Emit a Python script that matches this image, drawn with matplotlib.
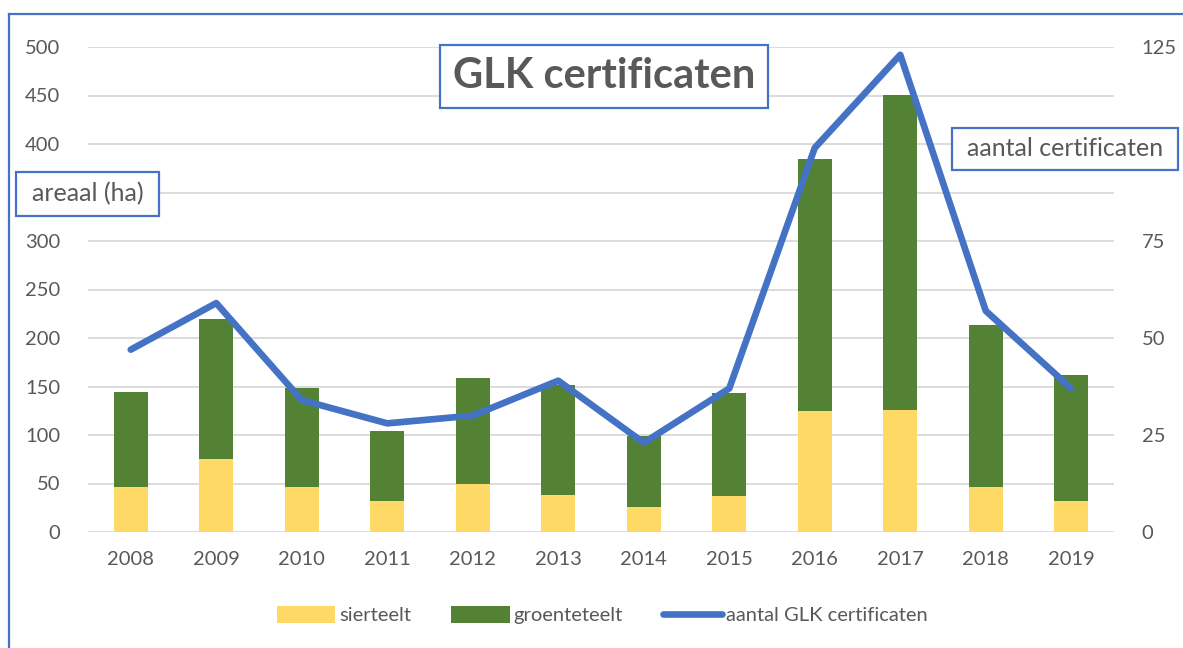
import matplotlib.pyplot as plt
import numpy as np
from matplotlib.patches import Rectangle

plt.rcParams['font.family'] = ['Lato', 'DejaVu Sans']

# data
jaren = ['2008', '2009', '2010', '2011', '2012', '2013', '2014', '2015', '2016', '2017', '2018', '2019']
sierteelt = [46, 75, 46, 32, 49, 38, 26, 37, 125, 126, 46, 32]
groenteteelt = [98, 145, 102, 72, 110, 114, 73, 106, 260, 325, 167, 130]
certificaten = [47, 59, 34, 28, 30, 39, 23, 37, 99, 123, 57, 37]

YELLOW = '#FFD966'
GREEN = '#548235'
BLUE = '#4472C4'
GREY = '#595959'

fig = plt.figure(figsize=(11.83, 6.48), dpi=100)
ax = fig.add_axes([88/1183, 1-532/648, 1026/1183, 485/648])
ax2 = ax.twinx()

x = np.arange(len(jaren))
ax.bar(x, sierteelt, width=0.4, color=YELLOW, label='sierteelt', zorder=2)
ax.bar(x, groenteteelt, width=0.4, bottom=sierteelt, color=GREEN, label='groenteteelt', zorder=2)
ax2.plot(x, certificaten, color=BLUE, lw=4.8, label='aantal GLK certificaten', solid_capstyle='round')

ax.set_xlim(-0.5, len(jaren) - 0.5)
ax.set_ylim(0, 500)
ax2.set_ylim(0, 125)
# labels 350 and 100 sit under the text boxes, as in the original
links = list(range(0, 501, 50))
ax.set_yticks(links)
ax.set_yticklabels(['' if v == 350 else str(v) for v in links])
rechts = list(range(0, 126, 25))
ax2.set_yticks(rechts)
ax2.set_yticklabels(['' if v == 100 else str(v) for v in rechts])
ax.set_xticks(x)
ax.set_xticklabels(jaren)

ax.grid(axis='y', color='#D9D9D9', lw=1.3, zorder=0)
ax.set_axisbelow(True)
for a in (ax, ax2):
    for s in a.spines.values():
        s.set_visible(False)
    a.tick_params(length=0, labelsize=14.5, colors=GREY)
ax.tick_params(axis='y', pad=20)
ax.tick_params(axis='x', pad=14)
ax2.tick_params(axis='y', pad=20)

# legend
h1, l1 = ax.get_legend_handles_labels()
h2, l2 = ax2.get_legend_handles_labels()
leg = fig.legend(h1 + h2, l1 + l2, loc='center', bbox_to_anchor=(602/1183, 1-615/648), ncol=3,
                 frameon=False, fontsize=14.5, handlelength=2.9, handleheight=0.9,
                 handletextpad=0.2, columnspacing=2.0)
for t in leg.get_texts():
    t.set_color(GREY)

# text boxes
def tekstvak(x0, y0, x1, y1, tekst, size, weight='normal'):
    fig.patches.append(Rectangle((x0/1183, 1-y1/648), (x1-x0)/1183, (y1-y0)/648,
                                 transform=fig.transFigure, fill=True, facecolor='white',
                                 edgecolor=BLUE, lw=1.6, zorder=5))
    fig.text((x0+x1)/2/1183, 1-(y0+y1)/2/648, tekst, ha='center', va='center',
             fontsize=size, fontweight=weight, color=GREY, zorder=6)

tekstvak(440, 45, 768, 108, 'GLK certificaten', 30, 'bold')
tekstvak(16, 172, 159, 216, 'areaal (ha)', 18)
tekstvak(952, 128, 1178, 170, 'aantal certificaten', 18)

# outer border
fig.add_artist(plt.Line2D([9/1183, 9/1183], [0, 1-14/648], transform=fig.transFigure, color=BLUE, lw=1.6))
fig.add_artist(plt.Line2D([9/1183, 1], [1-14/648, 1-14/648], transform=fig.transFigure, color=BLUE, lw=1.6))

fig.savefig('out.png', dpi=100)
